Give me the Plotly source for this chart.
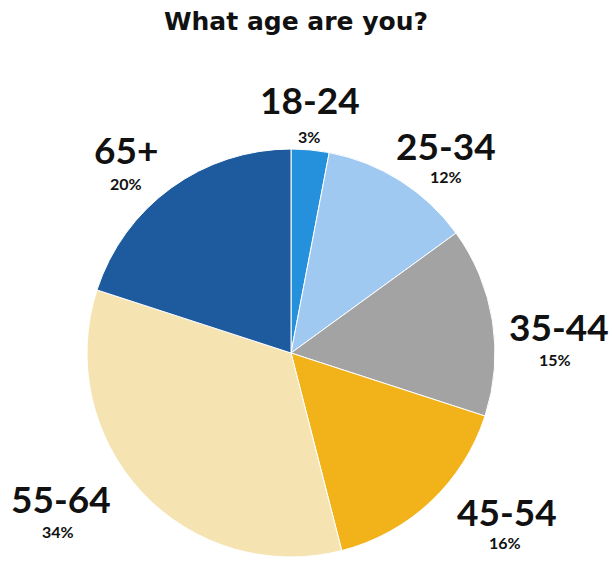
import plotly.graph_objects as go

categories = ["18-24", "25-34", "35-44", "45-54", "55-64", "65+"]
values = [3, 12, 15, 16, 34, 20]
colors = ["#2590dc", "#9fc9f0", "#a3a3a3", "#f2b21a", "#f5e4b2", "#1e5a9e"]

# label centres in pixels: category label, percentage label
label_pos = [(310, 100), (446, 145), (559, 326), (507, 511), (61, 498), (126, 149)]
pct_pos = [(309, 136), (446, 176), (555, 359), (505, 542), (58, 531), (126, 183)]

W, H = 612, 562
cx, cy, r = 291, 353, 204

fig = go.Figure()
fig.add_trace(go.Pie(
    labels=categories,
    values=values,
    sort=False,
    direction="clockwise",
    rotation=0,
    marker=dict(colors=colors, line=dict(color="white", width=1)),
    textinfo="none",
    hoverinfo="label+percent",
    showlegend=False,
    domain=dict(x=[(cx - r) / W, (cx + r) / W], y=[(H - cy - r) / H, (H - cy + r) / H]),
))

annotations = []
for cat, val, (px, py), (qx, qy) in zip(categories, values, label_pos, pct_pos):
    annotations.append(dict(
        x=px / W, y=1 - py / H, xref="paper", yref="paper",
        text=f"<b>{cat}</b>", showarrow=False,
        font=dict(family="Lato", size=37, color="#111111"),
        xanchor="center", yanchor="middle",
    ))
    annotations.append(dict(
        x=qx / W, y=1 - qy / H, xref="paper", yref="paper",
        text=f"<b>{val}%</b>", showarrow=False,
        font=dict(family="Lato", size=16, color="#111111"),
        xanchor="center", yanchor="middle",
    ))

annotations.append(dict(
    x=296 / W, y=1 - 22 / H, xref="paper", yref="paper",
    text="<b>What age are you?</b>", showarrow=False,
    font=dict(family="DejaVu Sans", size=25, color="#111111"),
    xanchor="center", yanchor="middle",
))

fig.update_layout(
    width=W, height=H,
    margin=dict(l=0, r=0, t=0, b=0),
    paper_bgcolor="white", plot_bgcolor="white",
    annotations=annotations,
)

fig.write_html("out.html", config={"displayModeBar": False},
               post_script="document.body.style.margin='0px';")
